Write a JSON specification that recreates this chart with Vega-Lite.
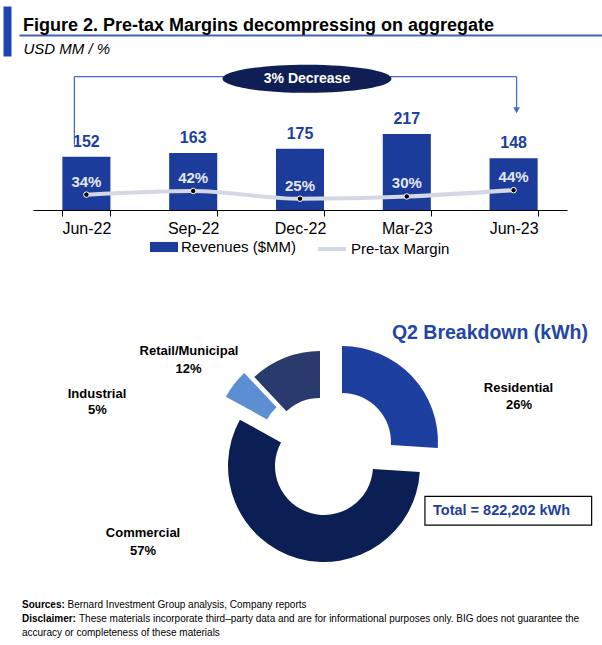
{
  "$schema": "https://vega.github.io/schema/vega-lite/v6.json",
  "background": "white",
  "padding": {"left": 7, "top": 6, "right": 0, "bottom": 0},
  "spacing": 5,
  "resolve": {"legend": {"fill": "independent", "stroke": "independent"}},
  "config": {
    "view": {"stroke": null},
    "font": "Liberation Sans",
    "axis": {"grid": false},
    "text": {"font": "Liberation Sans"},
    "title": {"font": "Liberation Sans"},
    "legend": {"labelFont": "Liberation Sans"}
  },
  "vconcat": [
    {
      "width": 583,
      "height": 50,
      "title": {"text": "Figure 2. Pre-tax Margins decompressing on aggregate", "anchor": "start", "frame": "group", "fontSize": 18, "fontWeight": "bold", "color": "black", "baseline": "alphabetic", "offset": -43, "dx": 4},
      "data": {"values": [{"k": 0}]},
      "mark": {"type": "point", "opacity": 0},
      "encoding": {
        "x": {"field": "k", "type": "quantitative", "scale": {"domain": [0, 1]},
          "axis": {"orient": "bottom", "offset": -21, "domain": true, "domainColor": "#4062b6", "domainWidth": 2, "ticks": false, "labels": false, "grid": false,
            "title": "USD MM / %", "titleFont": "Liberation Sans", "titleFontSize": 15, "titleFontStyle": "italic", "titleFontWeight": "normal", "titleColor": "black", "titleAnchor": "start", "titleAlign": "left", "titleBaseline": "alphabetic", "titleX": 4, "titleY": 18}},
        "y": {"field": "k", "type": "quantitative", "scale": {"domain": [0, 1]},
          "axis": {"orient": "left", "offset": 12, "domainColor": "#1f45b3", "domainWidth": 8, "ticks": false, "labels": false, "grid": false, "title": null}}
      }
    },
    {
      "width": 575,
      "height": 140,
      "data": {"values": [
        {"period": "Jun-22", "revenue": 152, "margin": 0.34},
        {"period": "Sep-22", "revenue": 163, "margin": 0.42},
        {"period": "Dec-22", "revenue": 175, "margin": 0.25},
        {"period": "Mar-23", "revenue": 217, "margin": 0.30},
        {"period": "Jun-23", "revenue": 148, "margin": 0.44}
      ]},
      "encoding": {
        "x": {"field": "period", "type": "nominal",
          "scale": {"domain": ["Jun-22", "Sep-22", "Dec-22", "Mar-23", "Jun-23"], "range": [14, 548], "paddingInner": 0.55, "paddingOuter": 0.275},
          "axis": {"title": null, "labelAngle": 0, "labelFontSize": 16, "labelColor": "black", "labelFont": "Liberation Sans", "tickColor": "black", "domainColor": "black", "tickSize": 6, "tickBand": "extent", "labelPadding": 4}}
      },
      "layer": [
        {
          "mark": {"type": "bar"},
          "encoding": {
            "y": {"field": "revenue", "type": "quantitative", "scale": {"domain": [0, 400]}, "axis": null},
            "fill": {"datum": "Revenues ($MM)", "type": "nominal", "scale": {"range": ["#1b3c9b"]},
              "legend": {"title": null, "orient": "none", "legendX": 131, "legendY": 163, "symbolType": "M-1,-0.36H1V0.36H-1Z", "symbolSize": 784, "symbolStrokeWidth": 0, "labelFontSize": 15, "labelColor": "black", "labelOffset": 3}}
          }
        },
        {
          "mark": {"type": "text", "fontWeight": "bold", "fontSize": 16, "color": "#1f3f9f", "baseline": "alphabetic", "dy": -10},
          "encoding": {
            "y": {"field": "revenue", "type": "quantitative", "scale": {"domain": [0, 400]}, "axis": null},
            "text": {"field": "revenue", "type": "quantitative"}
          }
        },
        {
          "mark": {"type": "line", "strokeWidth": 4, "interpolate": "monotone"},
          "encoding": {
            "y": {"field": "margin", "type": "quantitative", "scale": {"domain": [0, 3.1]}, "axis": null},
            "stroke": {"datum": "Pre-tax Margin", "type": "nominal", "scale": {"range": ["#d3d8e4"]},
              "legend": {"title": null, "orient": "none", "legendX": 297, "legendY": 163, "symbolType": "stroke", "symbolSize": 784, "symbolStrokeWidth": 4, "labelFontSize": 15, "labelColor": "black", "labelOffset": 3}}
          }
        },
        {
          "mark": {"type": "point", "filled": true, "fill": "black", "size": 30, "stroke": "white", "strokeWidth": 1, "opacity": 1},
          "encoding": {
            "y": {"field": "margin", "type": "quantitative", "scale": {"domain": [0, 3.1]}, "axis": null}
          }
        },
        {
          "mark": {"type": "text", "fontWeight": "bold", "fontSize": 15, "color": "#e4e8f2", "baseline": "alphabetic", "dy": -8},
          "encoding": {
            "y": {"field": "margin", "type": "quantitative", "scale": {"domain": [0, 3.1]}, "axis": null},
            "text": {"field": "margin", "type": "quantitative", "format": ".0%"}
          }
        },
        {
          "data": {"values": [{"period": "Jun-22", "lo": 186, "hi": 381}]},
          "mark": {"type": "rule", "color": "#4a6bc2", "strokeWidth": 1.3, "xOffset": -12},
          "encoding": {
            "y": {"field": "lo", "type": "quantitative", "scale": {"domain": [0, 400]}, "axis": null},
            "y2": {"field": "hi"}
          }
        },
        {
          "data": {"values": [{"start": "Jun-22", "end": "Jun-23", "level": 381}]},
          "mark": {"type": "rule", "color": "#4a6bc2", "strokeWidth": 1.3, "xOffset": -12, "x2Offset": 3},
          "encoding": {
            "x": {"field": "start", "type": "nominal"},
            "x2": {"field": "end"},
            "y": {"field": "level", "type": "quantitative", "scale": {"domain": [0, 400]}, "axis": null}
          }
        },
        {
          "data": {"values": [{"period": "Jun-23", "lo": 289, "hi": 381}]},
          "mark": {"type": "rule", "color": "#4a6bc2", "strokeWidth": 1.3, "xOffset": 3},
          "encoding": {
            "y": {"field": "lo", "type": "quantitative", "scale": {"domain": [0, 400]}, "axis": null},
            "y2": {"field": "hi"}
          }
        },
        {
          "data": {"values": [{"period": "Jun-23", "level": 285}]},
          "mark": {"type": "point", "shape": "triangle-down", "size": 45, "filled": true, "color": "#4a6bc2", "opacity": 1, "xOffset": 3},
          "encoding": {
            "y": {"field": "level", "type": "quantitative", "scale": {"domain": [0, 400]}, "axis": null}
          }
        },
        {
          "data": {"values": [{"period": "Dec-22", "level": 375, "note": "3% Decrease"}]},
          "layer": [
            {
              "mark": {"type": "point", "shape": "M-1,0A1,0.166,0,1,0,1,0A1,0.166,0,1,0,-1,0Z", "size": 28561, "filled": true, "color": "#0f1f55", "opacity": 1, "xOffset": 7},
              "encoding": {
                "y": {"field": "level", "type": "quantitative", "scale": {"domain": [0, 400]}, "axis": null}
              }
            },
            {
              "mark": {"type": "text", "fontWeight": "bold", "fontSize": 14, "color": "white", "baseline": "middle", "dx": 7},
              "encoding": {
                "y": {"field": "level", "type": "quantitative", "scale": {"domain": [0, 400]}, "axis": null},
                "text": {"field": "note"}
              }
            }
          ]
        }
      ],
      "resolve": {"scale": {"y": "independent"}}
    },
    {
      "width": 575,
      "height": 331,
      "data": {"values": [
        {"segment": "Residential", "share": 0.26, "order": 1},
        {"segment": "Commercial", "share": 0.57, "order": 2},
        {"segment": "Industrial", "share": 0.05, "order": 3},
        {"segment": "Retail/Municipal", "share": 0.12, "order": 4}
      ]},
      "transform": [{"stack": "share", "groupby": [], "sort": [{"field": "order", "order": "ascending"}], "as": ["s0", "s1"]}],
      "layer": [
        {"transform": [{"filter": "datum.segment === 'Residential'"}],
         "mark": {"type": "arc", "outerRadius": 96, "innerRadius": 49, "xOffset": 35.5, "yOffset": 14.5, "color": "#1d3f9f"},
         "encoding": {"theta": {"field": "s0", "type": "quantitative", "scale": {"domain": [0, 1]}}, "theta2": {"field": "s1"}}},
        {"transform": [{"filter": "datum.segment === 'Commercial'"}],
         "mark": {"type": "arc", "outerRadius": 96, "innerRadius": 49, "xOffset": 17.5, "yOffset": 38.5, "color": "#0b1f54"},
         "encoding": {"theta": {"field": "s0", "type": "quantitative", "scale": {"domain": [0, 1]}}, "theta2": {"field": "s1"}}},
        {"transform": [{"filter": "datum.segment === 'Industrial'"}],
         "mark": {"type": "arc", "outerRadius": 96, "innerRadius": 49, "xOffset": 3.5, "yOffset": 15.5, "color": "#5b8fd1"},
         "encoding": {"theta": {"field": "s0", "type": "quantitative", "scale": {"domain": [0, 1]}}, "theta2": {"field": "s1"}}},
        {"transform": [{"filter": "datum.segment === 'Retail/Municipal'"}],
         "mark": {"type": "arc", "outerRadius": 96, "innerRadius": 49, "xOffset": 13.5, "yOffset": 19.5, "color": "#283b6c"},
         "encoding": {"theta": {"field": "s0", "type": "quantitative", "scale": {"domain": [0, 1]}}, "theta2": {"field": "s1"}}},
        {"transform": [{"filter": "datum.segment === 'Residential'"}],
         "mark": {"type": "text", "fontWeight": "bold", "fontSize": 13, "color": "black", "align": "center", "baseline": "middle", "dx": 212, "dy": -40},
         "encoding": {"text": {"field": "segment"}}},
        {"transform": [{"filter": "datum.segment === 'Residential'"}],
         "mark": {"type": "text", "fontWeight": "bold", "fontSize": 13, "color": "black", "align": "center", "baseline": "middle", "dx": 212.5, "dy": -23},
         "encoding": {"text": {"field": "share", "type": "quantitative", "format": ".0%"}}},
        {"transform": [{"filter": "datum.segment === 'Commercial'"}],
         "mark": {"type": "text", "fontWeight": "bold", "fontSize": 13, "color": "black", "align": "center", "baseline": "middle", "dx": -163.5, "dy": 105.5},
         "encoding": {"text": {"field": "segment"}}},
        {"transform": [{"filter": "datum.segment === 'Commercial'"}],
         "mark": {"type": "text", "fontWeight": "bold", "fontSize": 13, "color": "black", "align": "center", "baseline": "middle", "dx": -163.5, "dy": 123.2},
         "encoding": {"text": {"field": "share", "type": "quantitative", "format": ".0%"}}},
        {"transform": [{"filter": "datum.segment === 'Industrial'"}],
         "mark": {"type": "text", "fontWeight": "bold", "fontSize": 13, "color": "black", "align": "center", "baseline": "middle", "dx": -209.5, "dy": -33.5},
         "encoding": {"text": {"field": "segment"}}},
        {"transform": [{"filter": "datum.segment === 'Industrial'"}],
         "mark": {"type": "text", "fontWeight": "bold", "fontSize": 13, "color": "black", "align": "center", "baseline": "middle", "dx": -209, "dy": -17.5},
         "encoding": {"text": {"field": "share", "type": "quantitative", "format": ".0%"}}},
        {"transform": [{"filter": "datum.segment === 'Retail/Municipal'"}],
         "mark": {"type": "text", "fontWeight": "bold", "fontSize": 13, "color": "black", "align": "center", "baseline": "middle", "dx": -117.5, "dy": -76.5},
         "encoding": {"text": {"field": "segment"}}},
        {"transform": [{"filter": "datum.segment === 'Retail/Municipal'"}],
         "mark": {"type": "text", "fontWeight": "bold", "fontSize": 13, "color": "black", "align": "center", "baseline": "middle", "dx": -118, "dy": -58.5},
         "encoding": {"text": {"field": "share", "type": "quantitative", "format": ".0%"}}},
        {"data": {"values": [{"heading": "Q2 Breakdown (kWh)", "total": "Total = 822,202 kWh"}]},
         "layer": [
           {"mark": {"type": "text", "fontWeight": "bold", "fontSize": 19.5, "color": "#2346a4", "align": "right", "baseline": "alphabetic", "dx": 281.5, "dy": -88.5},
            "encoding": {"text": {"field": "heading"}}},
           {"mark": {"type": "point", "shape": "M-1,-0.172H1V0.172H-1Z", "size": 27789, "filled": false, "stroke": "black", "strokeWidth": 1.2, "opacity": 1, "xOffset": 201.8, "yOffset": 83.2},
            "encoding": {}},
           {"mark": {"type": "text", "fontWeight": "bold", "fontSize": 14.5, "color": "#1f3f9e", "align": "left", "baseline": "middle", "dx": 126.5, "dy": 83.2},
            "encoding": {"text": {"field": "total"}}}
         ]}
      ]
    },
    {
      "width": 575,
      "height": 42,
      "data": {"values": [
        {"line": 1, "head": "Sources:", "body": "Bernard Investment Group analysis, Company reports"},
        {"line": 2, "head": "Disclaimer:", "body": "These materials incorporate third–party data and are for informational purposes only. BIG does not guarantee the"},
        {"line": 3, "head": "", "body": "accuracy or completeness of these materials"}
      ]},
      "encoding": {
        "y": {"field": "line", "type": "ordinal", "axis": null},
        "x": {"value": 3}
      },
      "layer": [
        {"mark": {"type": "text", "align": "left", "baseline": "middle", "fontWeight": "bold", "fontSize": 10, "color": "black"},
         "encoding": {"text": {"field": "head"}}},
        {"transform": [{"filter": "datum.line === 1"}],
         "mark": {"type": "text", "align": "left", "baseline": "middle", "fontSize": 10, "color": "black", "dx": 45.5},
         "encoding": {"text": {"field": "body"}}},
        {"transform": [{"filter": "datum.line === 2"}],
         "mark": {"type": "text", "align": "left", "baseline": "middle", "fontSize": 10, "color": "black", "dx": 57},
         "encoding": {"text": {"field": "body"}}},
        {"transform": [{"filter": "datum.line === 3"}],
         "mark": {"type": "text", "align": "left", "baseline": "middle", "fontSize": 10, "color": "black"},
         "encoding": {"text": {"field": "body"}}}
      ]
    }
  ]
}
